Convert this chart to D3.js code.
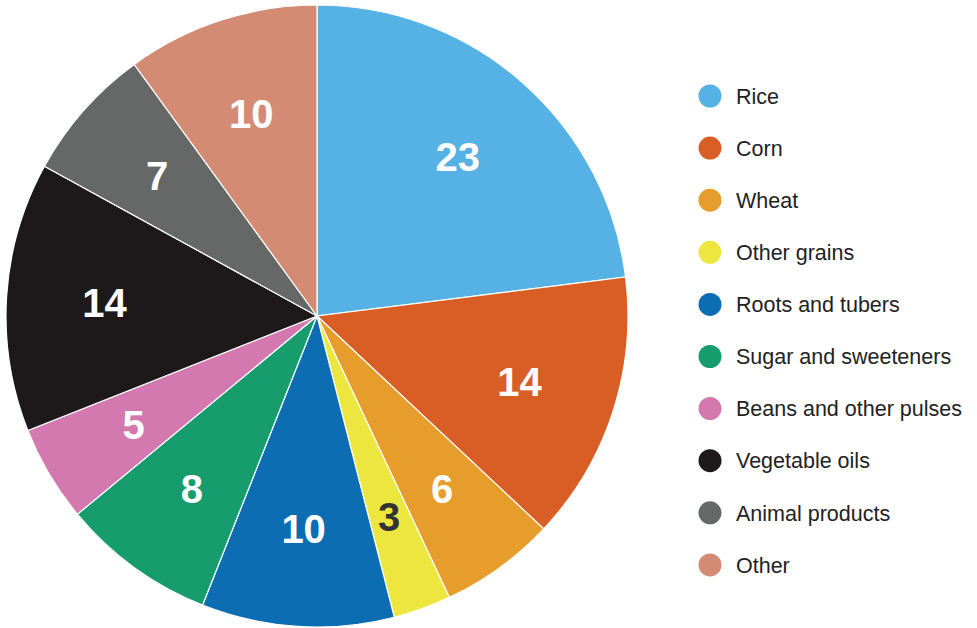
<!DOCTYPE html>
<html>
<head>
<meta charset="utf-8">
<script src="https://cdn.jsdelivr.net/npm/d3@7"></script>
<style>
  html, body { margin: 0; padding: 0; background: #fff; }
  svg { display: block; }
</style>
</head>
<body>
<svg id="chart" width="977" height="628"></svg>
<script>
// Share of dietary energy by food group (percent)
const categories = ["Rice", "Corn", "Wheat", "Other grains", "Roots and tubers",
  "Sugar and sweeteners", "Beans and other pulses", "Vegetable oils", "Animal products", "Other"];
const values = [23, 14, 6, 3, 10, 8, 5, 14, 7, 10];
const colors = ["#56b1e5", "#d95e25", "#e69d2b", "#ece63f", "#0c6db2",
  "#169c6d", "#d379af", "#1d191a", "#666767", "#d48b73"];
const labelColors = ["#fff", "#fff", "#fff", "#333", "#fff", "#fff", "#fff", "#fff", "#fff", "#fff"];

const svg = d3.select("#chart");
const cx = 317, cy = 316, r = 311;

const data = categories.map((c, i) => ({ name: c, value: values[i], color: colors[i], lc: labelColors[i] }));

const pie = d3.pie().value(d => d.value).sort(null);
const arcs = pie(data);
const arc = d3.arc().innerRadius(0).outerRadius(r);
const labelArc = d3.arc().innerRadius(213).outerRadius(213);

const g = svg.append("g").attr("transform", `translate(${cx},${cy})`);

g.selectAll("path.slice")
  .data(arcs)
  .join("path")
  .attr("class", "slice")
  .attr("d", arc)
  .attr("fill", d => d.data.color)
  .attr("stroke", "#fff")
  .attr("stroke-width", 1.2);

g.selectAll("text.val")
  .data(arcs)
  .join("text")
  .attr("class", "val")
  .attr("transform", d => `translate(${labelArc.centroid(d)})`)
  .attr("text-anchor", "middle")
  .attr("dy", "0.36em")
  .attr("font-family", "Liberation Sans, Arial, sans-serif")
  .attr("font-weight", "bold")
  .attr("font-size", 40)
  .attr("fill", d => d.data.lc)
  .text(d => d.data.value);

// Legend
const legend = svg.append("g").attr("transform", "translate(710,96)");
const rowH = 52.1;
const items = legend.selectAll("g.item")
  .data(data)
  .join("g")
  .attr("class", "item")
  .attr("transform", (d, i) => `translate(0,${i * rowH})`);

items.append("circle")
  .attr("r", 11.5)
  .attr("fill", d => d.color);

items.append("text")
  .attr("x", 26)
  .attr("dy", "0.36em")
  .attr("font-family", "Liberation Sans, Arial, sans-serif")
  .attr("font-size", 21.5)
  .attr("fill", "#222")
  .text(d => d.name);
</script>
</body>
</html>
